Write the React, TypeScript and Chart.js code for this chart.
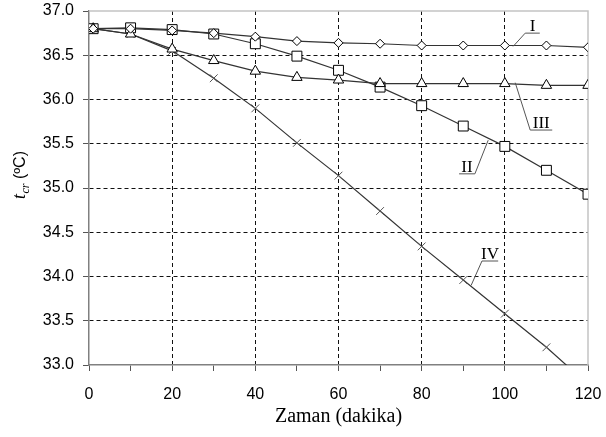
import React, { useEffect, useRef } from "react";
import { Chart, registerables } from "chart.js";

Chart.register(...registerables);

const timeMin = [1, 10, 20, 30, 40, 50, 60, 70, 80, 90, 100, 110, 120];
const seriesI = [36.8, 36.8, 36.78, 36.75, 36.71, 36.66, 36.64, 36.63, 36.61, 36.61, 36.61, 36.61, 36.59];
const seriesII = [36.8, 36.81, 36.79, 36.74, 36.63, 36.49, 36.33, 36.14, 35.93, 35.7, 35.47, 35.2, 34.93];
const seriesIII = [36.8, 36.74, 36.57, 36.44, 36.32, 36.25, 36.22, 36.18, 36.18, 36.18, 36.18, 36.16, 36.16];
const seriesIV = [36.8, 36.74, 36.55, 36.24, 35.9, 35.51, 35.14, 34.74, 34.34, 33.96, 33.58, 33.2, 32.78];

const xTickLabels = [0, 20, 40, 60, 80, 100, 120];
const yTickLabels = ["33.0", "33.5", "34.0", "34.5", "35.0", "35.5", "36.0", "36.5", "37.0"];

// callout labels in data units: anchor on curve, elbow, underline end x
const calloutText = ["I", "II", "III", "IV"];
const calloutAnchorX = [102.0, 96.0, 102.5, 91.9];
const calloutAnchorY = [36.6, 35.54, 36.19, 33.9];
const calloutElbowX = [104.9, 92.8, 106.1, 94.5];
const calloutElbowY = [36.75, 35.16, 35.655, 34.175];
const calloutEndX = [108.4, 89.0, 111.4, 98.4];

const SANS = '"Liberation Sans", Arial, sans-serif';
const SERIF = '"Liberation Serif", "Times New Roman", serif';

const toPts = (ys: number[]) => timeMin.map((x, i) => ({ x, y: ys[i] }));

const decorPlugin = {
  id: "decor",
  beforeDatasetsDraw(chart: any) {
    const { ctx, chartArea: a } = chart;
    ctx.save();
    ctx.strokeStyle = "#c4c4c4";
    ctx.lineWidth = 1.5;
    ctx.beginPath();
    ctx.moveTo(a.left, a.top);
    ctx.lineTo(a.right, a.top);
    ctx.lineTo(a.right, a.bottom);
    ctx.stroke();
    ctx.restore();
  },
  afterDatasetsDraw(chart: any) {
    const { ctx } = chart;
    const xs = chart.scales.x;
    const ys = chart.scales.y;
    ctx.save();
    ctx.strokeStyle = "#555";
    ctx.lineWidth = 1;
    ctx.fillStyle = "#000";
    ctx.font = `17px ${SERIF}`;
    ctx.textAlign = "center";
    ctx.textBaseline = "alphabetic";
    for (let i = 0; i < calloutText.length; i++) {
      const ax = xs.getPixelForValue(calloutAnchorX[i]);
      const ay = ys.getPixelForValue(calloutAnchorY[i]);
      const ex = xs.getPixelForValue(calloutElbowX[i]);
      const ey = ys.getPixelForValue(calloutElbowY[i]);
      const ux = xs.getPixelForValue(calloutEndX[i]);
      ctx.beginPath();
      ctx.moveTo(ax, ay);
      ctx.lineTo(ex, ey);
      ctx.lineTo(ux, ey);
      ctx.stroke();
      ctx.fillText(calloutText[i], (ex + ux) / 2, ey - 2);
    }
    ctx.restore();
  },
  afterDraw(chart: any) {
    const { ctx, chartArea: a } = chart;
    ctx.save();
    // x title
    ctx.fillStyle = "#000";
    ctx.font = `20px ${SERIF}`;
    ctx.textAlign = "center";
    ctx.textBaseline = "alphabetic";
    ctx.fillText("Zaman (dakika)", (a.left + a.right) / 2, a.bottom + 57);
    // y title, rotated
    ctx.translate(25, 199);
    ctx.rotate(-Math.PI / 2);
    ctx.textAlign = "left";
    let x = 0;
    ctx.font = `italic 18px ${SERIF}`;
    ctx.fillText("t", x, 0);
    x += ctx.measureText("t").width + 0.5;
    ctx.font = `italic 12px ${SERIF}`;
    ctx.fillText("cr", x, 4);
    x += ctx.measureText("cr").width;
    ctx.font = `16px ${SANS}`;
    ctx.fillText(" (ºC)", x, 0);
    ctx.restore();
  },
};

export default function App() {
  const ref = useRef<HTMLCanvasElement | null>(null);
  useEffect(() => {
    if (!ref.current) return;
    const common = {
      borderColor: "#333",
      borderWidth: 1.2,
      pointBackgroundColor: "#fff",
      pointBorderColor: "#000",
      pointBorderWidth: 1,
      tension: 0,
      fill: false,
    };
    const chart = new Chart(ref.current, {
      type: "line",
      data: {
        datasets: [
          { ...common, label: "I", data: toPts(seriesI), pointStyle: "rectRot", pointRadius: 4.5 },
          { ...common, label: "III", data: toPts(seriesIII), pointStyle: "triangle", pointRadius: 6 },
          { ...common, label: "II", data: toPts(seriesII), pointStyle: "rect", pointRadius: 7 },
          {
            ...common,
            label: "IV",
            data: toPts(seriesIV),
            pointStyle: "crossRot",
            pointRadius: 5.5,
            pointBorderColor: "#555",
          },
        ],
      },
      options: {
        responsive: false,
        animation: false,
        events: [],
        layout: { padding: { top: 11, right: 18, bottom: 0, left: 0 } },
        plugins: { legend: { display: false }, tooltip: { enabled: false }, title: { display: false } },
        scales: {
          x: {
            type: "linear",
            min: 0,
            max: 120,
            afterFit: (s: any) => {
              s.height = 72;
              s.paddingLeft = 0;
              s.paddingRight = 0;
            },
            ticks: {
              stepSize: 10,
              autoSkip: false,
              maxRotation: 0,
              padding: 14,
              color: "#000",
              font: { family: SANS, size: 16 },
              callback: (v: any) => (xTickLabels.includes(Number(v)) ? String(v) : ""),
            },
            grid: {
              color: (c: any) => {
                const v = c.tick ? c.tick.value : 0;
                return v % 20 === 0 && v > 0 && v < 120 ? "#111" : "rgba(0,0,0,0)";
              },
              tickColor: "#555",
              tickLength: 6,
              tickWidth: 1,
              lineWidth: 1,
            },
            border: { color: "#808080", width: 1.5, dash: [4, 3] },
          },
          y: {
            type: "linear",
            min: 33,
            max: 37,
            afterFit: (s: any) => {
              s.width = 89;
              s.paddingTop = 0;
              s.paddingBottom = 0;
            },
            ticks: {
              stepSize: 0.5,
              padding: 9,
              color: "#000",
              font: { family: SANS, size: 16 },
              callback: (v: any) => {
                const s = Number(v).toFixed(1);
                return yTickLabels.includes(s) ? s : "";
              },
            },
            grid: {
              color: (c: any) => {
                const v = c.tick ? c.tick.value : 33;
                return v > 33 && v < 37 ? "#111" : "rgba(0,0,0,0)";
              },
              tickColor: "#555",
              tickLength: 6,
              tickWidth: 1,
              lineWidth: 1,
            },
            border: { color: "#808080", width: 1.5, dash: [4, 3] },
          },
        },
      },
      plugins: [decorPlugin],
    } as any);
    return () => chart.destroy();
  }, []);
  return (
    <div style={{ position: "absolute", left: 0, top: 0, width: 606, height: 437, background: "#fff" }}>
      <canvas ref={ref} width={606} height={437} style={{ display: "block" }} />
    </div>
  );
}
